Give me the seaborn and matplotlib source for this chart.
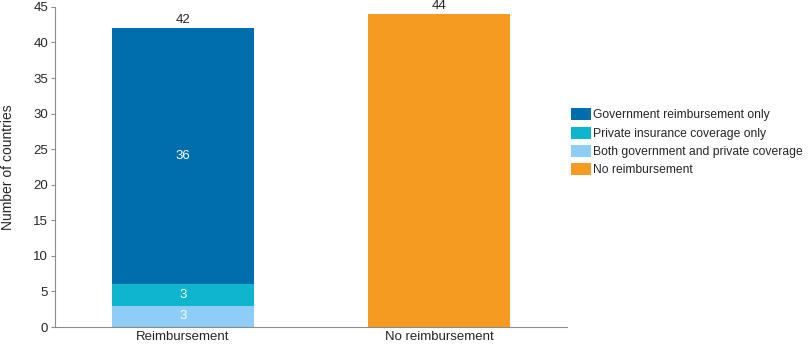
import pandas as pd
import numpy as np
import seaborn as sns
import matplotlib.pyplot as plt
from matplotlib.patches import Patch

sns.set_style("white")
plt.rcParams['font.family'] = ['Liberation Sans', 'DejaVu Sans']

## Data
categories = ["Reimbursement", "No reimbursement"]
gov_only = [36, 0]
private_only = [3, 0]
both = [3, 0]
no_reimb = [0, 44]
series_names = ["Government reimbursement only", "Private insurance coverage only",
                "Both government and private coverage", "No reimbursement"]
colors = ["#006eac", "#0db6cd", "#8ecdf5", "#f59b1f"]

## stacked layers (draw cumulative totals, largest first)
layer_both = np.array(both)
layer_priv = layer_both + np.array(private_only)
layer_gov = layer_priv + np.array(gov_only)
totals = layer_gov + np.array(no_reimb)

fig = plt.figure(figsize=(8.1, 3.45), dpi=100)
ax = fig.add_axes([0.068, 0.052, 0.632, 0.928])

w = 0.555
kw = dict(width=w, ax=ax, saturation=1, edgecolor='none', linewidth=0)
sns.barplot(x=categories, y=totals, color=colors[3], **kw)
sns.barplot(x=categories, y=layer_gov, color=colors[0], **kw)
sns.barplot(x=categories, y=layer_priv, color=colors[1], **kw)
sns.barplot(x=categories, y=layer_both, color=colors[2], **kw)

# labels
fs = 9.5
for i, t in enumerate(totals):
    ax.text(i, t + 0.3, str(t), ha='center', va='bottom', fontsize=fs, color='#262626')
ax.text(0, layer_priv[0] + gov_only[0] / 2, str(gov_only[0]), ha='center', va='center',
        fontsize=fs, color='white')
ax.text(0, layer_both[0] + private_only[0] / 2, str(private_only[0]), ha='center', va='center',
        fontsize=fs, color='white')
ax.text(0, both[0] / 2, str(both[0]), ha='center', va='center', fontsize=fs, color='white')

ax.set_ylim(0, 45)
ax.set_xlim(-0.5, 1.5)
ax.set_yticks(range(0, 46, 5))
ax.set_ylabel("Number of countries", fontsize=10, color='#262626')
ax.yaxis.set_label_coords(-0.079, 0.5)
ax.tick_params(axis='both', labelsize=fs, colors='#262626')
ax.tick_params(axis='y', left=True, length=3, color='#8c8c8c', pad=2)
ax.tick_params(axis='x', bottom=False, length=0, pad=3)
sns.despine(ax=ax)
for s in ['left', 'bottom']:
    ax.spines[s].set_color('#8c8c8c')
    ax.spines[s].set_linewidth(0.8)

handles = [Patch(facecolor=c, edgecolor='none') for c in colors]
fig.legend(handles, series_names, loc='center left', bbox_to_anchor=(0.7045, 0.588),
           frameon=False, fontsize=8.7, handlelength=1.65, handleheight=1.15,
           handletextpad=0.2, labelspacing=0.42, borderaxespad=0, borderpad=0)

plt.savefig("out.png", dpi=100)
